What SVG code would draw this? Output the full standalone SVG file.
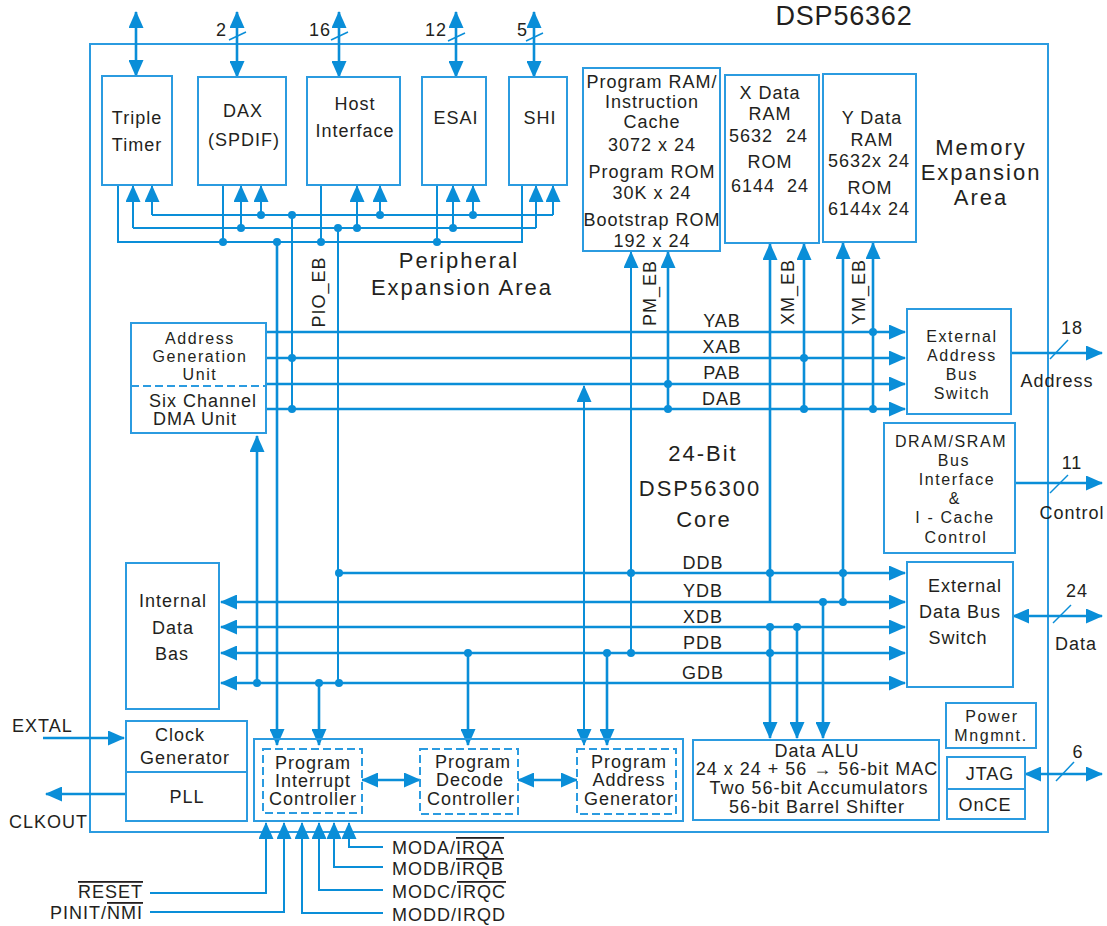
<svg xmlns="http://www.w3.org/2000/svg" width="1107" height="926" viewBox="0 0 1107 926">
<defs>
<marker id="ah" viewBox="0 0 17 15" markerWidth="17" markerHeight="15" refX="16" refY="7.5" orient="auto-start-reverse" markerUnits="userSpaceOnUse"><path d="M0,0 L17,7.5 L0,15 z" fill="#0a8ed8"/></marker>
</defs>
<style>
.box{fill:#fff;stroke:#2b9be0;stroke-width:2}
.frame{fill:none;stroke:#2b9be0;stroke-width:2}
.dash{fill:none;stroke:#2b9be0;stroke-width:2;stroke-dasharray:8 4}
.w{fill:none;stroke:#0a8ed8;stroke-width:2}
.b{fill:none;stroke:#0a8ed8;stroke-width:2.6}
.s{fill:none;stroke:#0a8ed8;stroke-width:1.5}
.a{marker-end:url(#ah)}
.d{marker-start:url(#ah);marker-end:url(#ah)}
.dot{fill:#0a8ed8}
text{font-family:"Liberation Sans",Arial,sans-serif;font-size:18px;letter-spacing:1px;fill:#231f20;text-anchor:middle}
.l{text-anchor:start}
.r{text-anchor:end}
.big{font-size:22px;letter-spacing:2px}
.sm{font-size:16px;letter-spacing:1.6px}
.ov{text-decoration:overline}
</style>
<rect width="1107" height="926" fill="#fff"/>
<g id="chip">
<rect class="frame" x="90" y="44" width="958" height="788"/>
<text x="844" y="25" style="font-size:27px;letter-spacing:0.8px">DSP56362</text>
</g>
<g id="connectors">
<path class="b d" d="M136,12V76"/>
<path class="b d" d="M237,12V77"/>
<path class="b d" d="M339,12V77"/>
<path class="b d" d="M456,12V77"/>
<path class="b d" d="M534,12V77"/>
<path class="s" d="M229,40L246,32M331,40L348,32M448,41L465,33M526,41L543,33"/>
<text class="r" x="227" y="36">2</text>
<text class="r" x="331" y="36">16</text>
<text class="r" x="447" y="36">12</text>
<text class="r" x="528" y="36">5</text>
<path class="w" d="M152,215H553"/>
<path class="w a" d="M152,215V186"/><path class="w a" d="M261,215V186"/><path class="w a" d="M380,215V186"/><path class="w a" d="M473,215V186"/><path class="w a" d="M553,215V186"/>
<path class="w" d="M133,228H536"/>
<path class="w a" d="M133,228V186"/><path class="w a" d="M241,228V186"/><path class="w a" d="M357,228V186"/><path class="w a" d="M453,228V186"/><path class="w a" d="M536,228V186"/>
<path class="w" d="M118,185V242H522V185M223,185V242M321,185V242M437,185V242"/>
<path class="b a" d="M277,242V745"/>
<path class="w" d="M292,215V408"/>
<path class="w" d="M338,228V683"/>
<path class="b a" d="M257,683V436"/>
<path class="b a" d="M319,683V745"/>
<path class="b a" d="M468,653V745"/>
<path class="w d" d="M584,386V745"/>
<path class="b a" d="M607,653V745"/>
<path class="w a" d="M631,653V252"/>
<path class="b a" d="M668,408V252"/>
<path class="b a" d="M770,603V244"/>
<path class="b a" d="M804,408V244"/>
<path class="b a" d="M843,603V243"/>
<path class="b a" d="M873,408V243"/>
<path class="b a" d="M770,627V738"/>
<path class="b a" d="M797,627V738"/>
<path class="b a" d="M823,603V738"/>
<path class="b a" d="M266,332H905"/>
<path class="b a" d="M266,358H905"/>
<path class="b a" d="M266,384H905"/>
<path class="b a" d="M266,409H905"/>
<text x="722" y="327">YAB</text>
<text x="722" y="353">XAB</text>
<text x="722" y="379">PAB</text>
<text x="722" y="405">DAB</text>
<path class="b a" d="M339,573H905"/>
<path class="b d" d="M221,602H905"/>
<path class="b d" d="M221,627H905"/>
<path class="b d" d="M221,653H905"/>
<path class="b d" d="M221,683H905"/>
<text x="703" y="569">DDB</text>
<text x="703" y="597">YDB</text>
<text x="703" y="623">XDB</text>
<text x="703" y="649">PDB</text>
<text x="703" y="679">GDB</text>
<path class="b a" d="M1011,353H1102"/>
<path class="s" d="M1050,359L1068,340"/>
<text x="1072" y="334">18</text>
<text x="1057" y="387">Address</text>
<path class="b a" d="M1015,483H1102"/>
<path class="s" d="M1050,493L1068,475"/>
<text x="1072" y="469">11</text>
<text x="1072" y="519">Control</text>
<path class="b d" d="M1013,616H1102"/>
<path class="s" d="M1053,623L1071,605"/>
<text x="1077" y="597">24</text>
<text x="1076" y="650">Data</text>
<path class="b d" d="M1025,774H1102"/>
<path class="s" d="M1056,781L1074,762"/>
<text x="1078" y="758">6</text>
<path class="b a" d="M43,738H124"/>
<path class="b a" d="M126,794H46"/>
<text class="l" x="12" y="732">EXTAL</text>
<text class="l" x="9" y="828">CLKOUT</text>
<path class="b d" d="M362,780H420"/>
<path class="b d" d="M518,780H577"/>
<path class="w a" d="M150,893H266V823"/>
<path class="w a" d="M150,912H284V823"/>
<path class="w a" d="M383,913H302V823"/>
<path class="w a" d="M383,890H319V823"/>
<path class="w a" d="M383,867H334V823"/>
<path class="w a" d="M383,847H349V823"/>
<text class="r" x="143" y="898"><tspan class="ov">RESET</tspan></text>
<text class="r" x="143" y="919">PINIT/<tspan class="ov">NMI</tspan></text>
<text class="l" x="392" y="854">MODA/<tspan class="ov">IRQA</tspan></text>
<text class="l" x="392" y="875">MODB/<tspan class="ov">IRQB</tspan></text>
<text class="l" x="392" y="898">MODC/<tspan class="ov">IRQC</tspan></text>
<text class="l" x="392" y="921">MODD/IRQD</text>
<text transform="translate(325,292) rotate(-90)">PIO_EB</text>
<text transform="translate(656,293) rotate(-90)">PM_EB</text>
<text transform="translate(794,292) rotate(-90)">XM_EB</text>
<text transform="translate(865,292) rotate(-90)">YM_EB</text>
<g class="dot">
<circle cx="261" cy="215" r="4"/><circle cx="292" cy="215" r="4"/><circle cx="380" cy="215" r="4"/><circle cx="473" cy="215" r="4"/>
<circle cx="241" cy="228" r="4"/><circle cx="338" cy="228" r="4"/><circle cx="357" cy="228" r="4"/><circle cx="453" cy="228" r="4"/>
<circle cx="223" cy="242" r="4"/><circle cx="277" cy="242" r="4"/><circle cx="321" cy="242" r="4"/><circle cx="437" cy="242" r="4"/>
<circle cx="873" cy="332" r="4"/><circle cx="292" cy="358" r="4"/><circle cx="804" cy="358" r="4"/><circle cx="668" cy="384" r="4"/>
<circle cx="292" cy="409" r="4"/><circle cx="668" cy="409" r="4"/><circle cx="804" cy="409" r="4"/><circle cx="873" cy="409" r="4"/>
<circle cx="339" cy="573" r="4"/><circle cx="631" cy="573" r="4"/><circle cx="770" cy="573" r="4"/><circle cx="843" cy="573" r="4"/>
<circle cx="823" cy="602" r="4"/><circle cx="843" cy="602" r="4"/>
<circle cx="770" cy="627" r="4"/><circle cx="797" cy="627" r="4"/>
<circle cx="468" cy="653" r="4"/><circle cx="607" cy="653" r="4"/><circle cx="631" cy="653" r="4"/><circle cx="770" cy="653" r="4"/>
<circle cx="257" cy="683" r="4"/><circle cx="319" cy="683" r="4"/><circle cx="339" cy="683" r="4"/>
</g>
</g>
<g id="triple-timer"><rect class="box" x="102" y="76" width="70" height="109"/><text x="137" y="124">Triple</text><text x="137" y="151">Timer</text></g>
<g id="dax"><rect class="box" x="198" y="77" width="88" height="108"/><text x="243" y="117">DAX</text><text x="244" y="146">(SPDIF)</text></g>
<g id="host"><rect class="box" x="307" y="77" width="93" height="108"/><text x="355" y="110">Host</text><text x="355" y="137">Interface</text></g>
<g id="esai"><rect class="box" x="422" y="77" width="64" height="108"/><text x="456" y="124">ESAI</text></g>
<g id="shi"><rect class="box" x="509" y="77" width="58" height="108"/><text x="540" y="124">SHI</text></g>
<g id="peripheral-area"><text class="big" x="459" y="268">Peripheral</text><text class="big" x="462" y="295">Expansion Area</text></g>
<g id="program-mem"><rect class="box" x="583" y="68" width="137" height="183"/>
<text x="652" y="88">Program RAM/</text><text x="652" y="108">Instruction</text><text x="652" y="128">Cache</text><text x="652" y="151">3072 x 24</text>
<text x="652" y="178">Program ROM</text><text x="652" y="199">30K x 24</text><text x="652" y="226">Bootstrap ROM</text><text x="652" y="247">192 x 24</text></g>
<g id="x-data"><rect class="box" x="725" y="75" width="94" height="168"/>
<text x="770" y="99">X Data</text><text x="770" y="120">RAM</text><text x="751" y="142">5632</text><text x="797" y="142">24</text>
<text x="770" y="168">ROM</text><text x="753" y="192">6144</text><text x="798" y="192">24</text></g>
<g id="y-data"><rect class="box" x="823" y="74" width="93" height="168"/>
<text x="872" y="124">Y Data</text><text x="872" y="146">RAM</text><text x="869" y="167">5632x 24</text>
<text x="870" y="194">ROM</text><text x="869" y="215">6144x 24</text></g>
<g id="memory-area"><text class="big" x="981" y="155">Memory</text><text class="big" x="981" y="180">Expansion</text><text class="big" x="981" y="205">Area</text></g>
<g id="agu"><rect class="box" x="131" y="323" width="135" height="110"/>
<path class="dash" d="M131,386H266"/>
<text class="sm" x="200" y="344">Address</text><text class="sm" x="200" y="362">Generation</text><text class="sm" x="200" y="380">Unit</text>
<text x="203" y="407">Six Channel</text><text x="195" y="425">DMA Unit</text></g>
<g id="core"><text class="big" x="703" y="461">24-Bit</text><text class="big" x="700" y="496">DSP56300</text><text class="big" x="704" y="527">Core</text></g>
<g id="eabs"><rect class="box" x="907" y="309" width="104" height="105"/>
<text class="sm" x="962" y="342">External</text><text class="sm" x="962" y="361">Address</text><text class="sm" x="962" y="380">Bus</text><text class="sm" x="962" y="399">Switch</text></g>
<g id="dram"><rect class="box" x="884" y="423" width="131" height="130"/>
<text class="sm" x="951" y="447">DRAM/SRAM</text><text class="sm" x="954" y="466">Bus</text><text class="sm" x="957" y="485">Interface</text><text class="sm" x="955" y="504">&amp;</text><text class="sm" x="955" y="523">I - Cache</text><text class="sm" x="956" y="543">Control</text></g>
<g id="edbs"><rect class="box" x="907" y="562" width="106" height="125"/>
<text x="965" y="592">External</text><text x="960" y="618">Data Bus</text><text x="958" y="644">Switch</text></g>
<g id="internal-data"><rect class="box" x="126" y="563" width="93" height="146"/>
<text x="173" y="607">Internal</text><text x="173" y="634">Data</text><text x="172" y="660">Bas</text></g>
<g id="power"><rect class="box" x="946" y="703" width="90" height="45"/><text class="sm" x="992" y="722">Power</text><text class="sm" x="991" y="741">Mngmnt.</text></g>
<g id="jtag"><rect class="box" x="947" y="757" width="78" height="62"/><path class="frame" d="M947,789H1025"/>
<text x="990" y="780">JTAG</text><text x="985" y="811">OnCE</text></g>
<g id="clock"><rect class="box" x="126" y="721" width="121" height="100"/><path class="frame" d="M126,772H247"/>
<text x="180" y="741">Clock</text><text x="185" y="764">Generator</text><text x="187" y="803">PLL</text></g>
<g id="program-control"><rect class="frame" x="254" y="739" width="429" height="82"/></g>
<g id="pic"><rect class="dash" x="263" y="749" width="99" height="64" style="fill:#fff"/>
<text x="313" y="769">Program</text><text x="313" y="787">Interrupt</text><text x="313" y="805">Controller</text></g>
<g id="pdc"><rect class="dash" x="420" y="749" width="98" height="65" style="fill:#fff"/>
<text x="473" y="768">Program</text><text x="470" y="786">Decode</text><text x="471" y="805">Controller</text></g>
<g id="pag"><rect class="dash" x="577" y="749" width="99" height="65" style="fill:#fff"/>
<text x="629" y="768">Program</text><text x="629" y="786">Address</text><text x="629" y="805">Generator</text></g>
<g id="alu"><rect class="box" x="693" y="740" width="246" height="80"/>
<text x="817" y="757">Data ALU</text><text x="817" y="775">24 x 24 + 56 → 56-bit MAC</text><text x="819" y="794">Two 56-bit Accumulators</text><text x="817" y="813">56-bit Barrel Shifter</text></g>
</svg>
